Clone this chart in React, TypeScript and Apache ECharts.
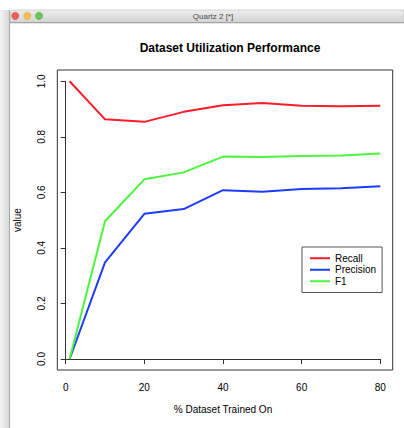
import React, { useEffect, useRef } from "react";
import * as echarts from "echarts";

const xValues = [1, 10, 20, 30, 40, 50, 60, 70, 80];
const recall = [1.0, 0.863, 0.854, 0.89, 0.914, 0.922, 0.912, 0.91, 0.912];
const precision = [0.0, 0.348, 0.523, 0.54, 0.608, 0.602, 0.612, 0.615, 0.622];
const f1 = [0.0, 0.496, 0.647, 0.672, 0.729, 0.727, 0.731, 0.733, 0.74];
const seriesNames = ["Recall", "Precision", "F1"];
const seriesColors = ["#fc1c2a", "#1e3cfb", "#4cf43c"];

const FONT = "'Liberation Sans', Arial, Helvetica, sans-serif";

export default function App() {
  const ref = useRef<HTMLDivElement>(null);
  useEffect(() => {
    if (!ref.current) return;
    const chart = echarts.init(ref.current, null, { renderer: "svg" });
    const allData = [recall, precision, f1];
    const boxL = 57.3, boxT = 70, boxR = 392.7, boxB = 370;
    chart.setOption({
      animation: false,
      backgroundColor: "#ffffff",
      textStyle: { fontFamily: FONT },
      title: {
        text: "Dataset Utilization Performance",
        left: 225,
        textAlign: "center",
        top: 37,
        textStyle: { fontFamily: FONT, fontSize: 12, fontWeight: "bold", color: "#000" },
      },
      grid: { left: 65.7, right: 404 - 380.3, top: 81.3, bottom: 428 - 359, containLabel: false },
      xAxis: {
        type: "value",
        min: 0,
        max: 80,
        interval: 20,
        offset: 11,
        name: "% Dataset Trained On",
        nameLocation: "middle",
        nameGap: 34,
        nameTextStyle: { fontFamily: FONT, fontSize: 10, color: "#000" },
        axisLine: { show: true, lineStyle: { color: "#333", width: 1 } },
        axisTick: { show: true, length: 5, lineStyle: { color: "#333" } },
        axisLabel: { fontFamily: FONT, fontSize: 10, color: "#000", margin: 12 },
        splitLine: { show: false },
      },
      yAxis: {
        type: "value",
        min: 0,
        max: 1,
        interval: 0.2,
        offset: 8.4,
        name: "value",
        nameLocation: "middle",
        nameGap: 35,
        nameTextStyle: { fontFamily: FONT, fontSize: 10, color: "#000" },
        axisLine: { show: true, lineStyle: { color: "#333", width: 1 } },
        axisTick: { show: true, length: 5, lineStyle: { color: "#333" } },
        axisLabel: {
          fontFamily: FONT,
          fontSize: 10,
          color: "#000",
          rotate: 90,
          margin: 11,
          formatter: (v: number) => v.toFixed(1),
        },
        splitLine: { show: false },
      },
      legend: {
        orient: "vertical",
        left: 302,
        top: 247,
        padding: [6, 6, 6, 8],
        itemGap: 1,
        itemWidth: 20,
        itemHeight: 2,
        icon: "rect",
        borderColor: "#555",
        borderWidth: 1,
        borderRadius: 0,
        textStyle: { fontFamily: FONT, fontSize: 10, color: "#000", lineHeight: 10.5 },
        data: seriesNames,
      },
      series: seriesNames.map((name, i) => ({
        name,
        type: "line",
        data: xValues.map((x, j) => [x, allData[i][j]]),
        symbol: "none",
        lineStyle: { color: seriesColors[i], width: 2 },
        itemStyle: { color: seriesColors[i] },
        clip: false,
      })),
      graphic: [
        {
          type: "rect",
          shape: { x: 0, y: 10, width: 10, height: 418 },
          style: {
            fill: new echarts.graphic.LinearGradient(0, 0, 1, 0, [
              { offset: 0, color: "#f3f3f3" },
              { offset: 1, color: "#d6d6d6" },
            ]),
          },
          silent: true,
        },
        {
          type: "line",
          shape: { x1: 9.5, y1: 10, x2: 9.5, y2: 428 },
          style: { stroke: "#a8a8a8", lineWidth: 1 },
          silent: true,
        },
        {
          type: "rect",
          shape: { x: 10, y: 10, width: 394, height: 12.7, r: [4, 0, 0, 0] },
          style: {
            fill: new echarts.graphic.LinearGradient(0, 0, 0, 1, [
              { offset: 0, color: "#eeeeee" },
              { offset: 1, color: "#d2d2d2" },
            ]),
            stroke: "#b0b0b0",
            lineWidth: 0.5,
          },
          silent: true,
        },
        {
          type: "line",
          shape: { x1: 10, y1: 22.7, x2: 404, y2: 22.7 },
          style: { stroke: "#9a9a9a", lineWidth: 1 },
          silent: true,
        },
        { type: "circle", shape: { cx: 15.3, cy: 15.8, r: 3.6 }, style: { fill: "#ee5f58", stroke: "#c9473f", lineWidth: 0.5 }, silent: true },
        { type: "circle", shape: { cx: 27.3, cy: 15.8, r: 3.6 }, style: { fill: "#f5bf4f", stroke: "#d39e32", lineWidth: 0.5 }, silent: true },
        { type: "circle", shape: { cx: 39, cy: 15.8, r: 3.6 }, style: { fill: "#63c655", stroke: "#4aa23c", lineWidth: 0.5 }, silent: true },
        {
          type: "text",
          x: 213,
          y: 16,
          style: {
            text: "Quartz 2 [*]",
            fontFamily: FONT,
            fontSize: 8,
            fill: "#4a4a4a",
            textAlign: "center",
            textVerticalAlign: "middle",
          },
          silent: true,
        },
        {
          type: "rect",
          shape: { x: boxL, y: boxT, width: boxR - boxL, height: boxB - boxT },
          style: { fill: "none", stroke: "#333", lineWidth: 1 },
          silent: true,
          z: 10,
        },
      ],
    });
    return () => chart.dispose();
  }, []);
  return (
    <div
      ref={ref}
      style={{ position: "fixed", left: 0, top: 0, width: 404, height: 428 }}
    />
  );
}
